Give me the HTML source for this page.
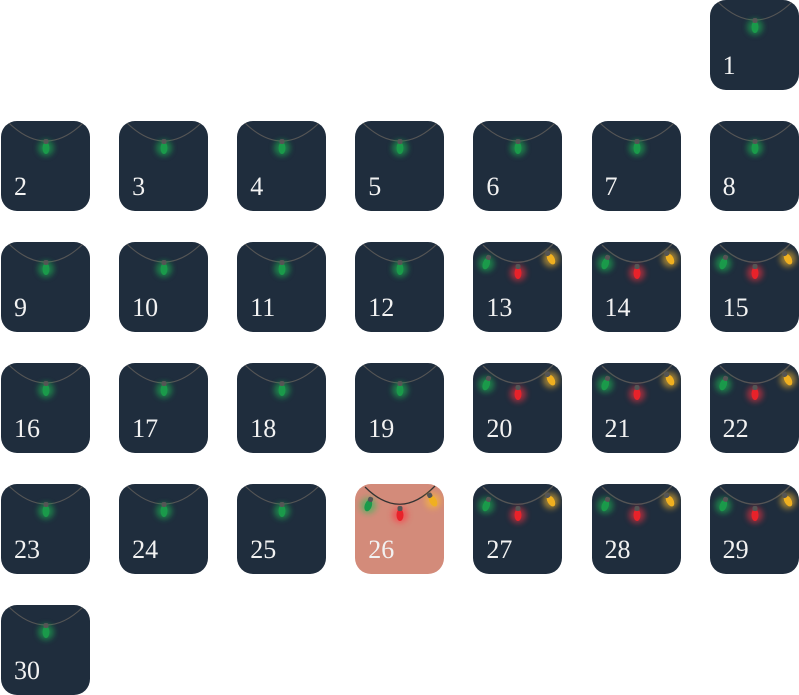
<!DOCTYPE html>
<html><head><meta charset="utf-8"><style>
html,body{margin:0;padding:0;background:#fff;width:799px;height:695px;overflow:hidden}
#cal{position:relative;width:799px;height:695px}
.tile{position:absolute;width:89px;height:90px;border-radius:16px;background:#1f2d3d;overflow:hidden}
.tile.today{background:#d38b7a}
.tile svg{position:absolute;left:0;top:0}
.num{position:absolute;left:13px;top:51px;font-family:"Liberation Serif",serif;font-size:26px;color:#f2f2f2}
</style></head><body>
<div id="cal"></div>
<script>
const days=[];for(let d=1;d<=30;d++)days.push(d);
const threeLights=[13,14,15,20,21,22,26,27,28,29];
const startCol=6, today=26;
const cal=document.getElementById('cal');
function bulb(cx,cy,color,glow,rot){
 return `<g transform="rotate(${rot} ${cx} ${cy-4})"><circle cx="${cx}" cy="${cy+4}" r="8" fill="${glow}" opacity="0.55" filter="url(#blur)"/><ellipse cx="${cx}" cy="${cy+4}" rx="3.5" ry="6" fill="${color}"/><rect x="${cx-2.5}" y="${cy-5}" width="5" height="5" rx="2" fill="#555"/></g>`;
}
days.forEach((d,i)=>{
 const idx=i+startCol, col=idx%7, row=Math.floor(idx/7);
 const t=document.createElement('div');
 t.className='tile'+(d===today?' today':'');
 
 
 t.style.left=(1+col*118.1)+'px';t.style.top=(row*121)+'px';
 const defs=`<defs><filter id="blur" x="-1" y="-1" width="3" height="3"><feGaussianBlur stdDeviation="3"/></filter></defs>`;
 let svg;
 if(threeLights.includes(d)){
  svg=`<svg width="89" height="90">${defs}<path d="M10 3 Q45 38 80 2" stroke="${d===today?'#333':'#555'}" stroke-width="1.3" fill="none"/>`+
   bulb(16,18,'#1a9a4a','#1fbf55',20)+bulb(45,27,'#e8222a','#ff3040',0)+bulb(74,14,'#f0b020','#ffc030',-30)+`</svg>`;
 }else{
  svg=`<svg width="89" height="90">${defs}<path d="M8 2 Q45 38 82 2" stroke="#555" stroke-width="1.1" fill="none"/>`+bulb(45,23,'#1a9a4a','#1fbf55',0)+`</svg>`;
 }
 t.innerHTML=svg+`<span class="num">${d}</span>`;
 cal.appendChild(t);
});
</script>
</body></html>
